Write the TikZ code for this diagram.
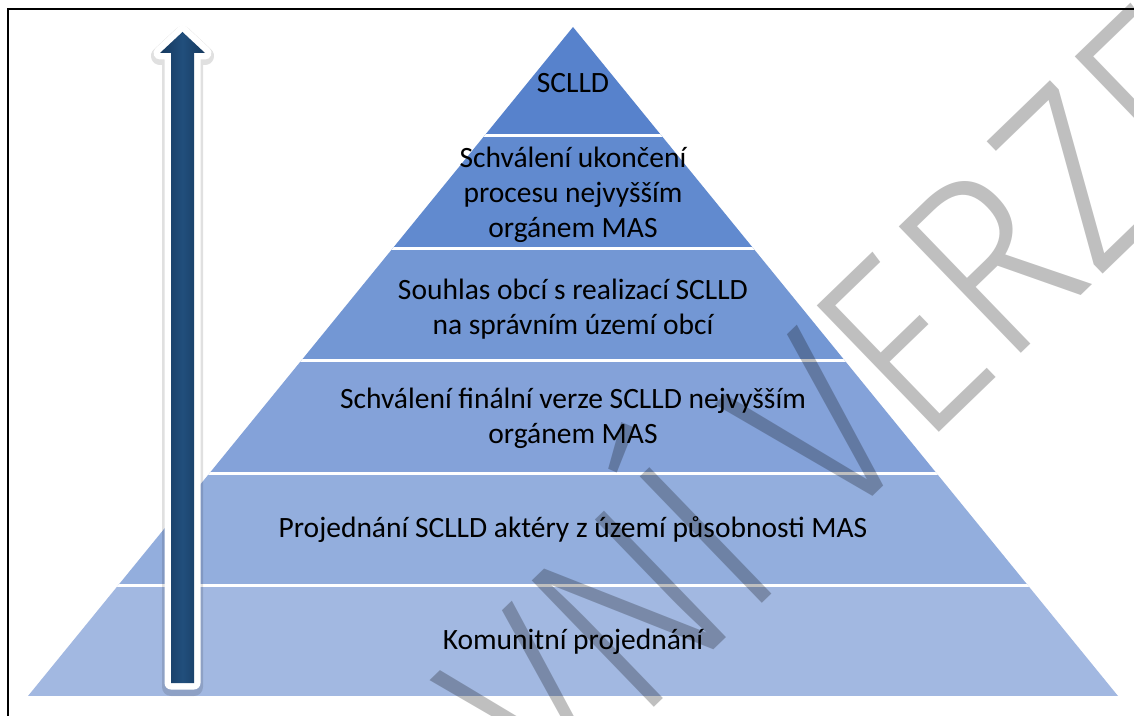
\documentclass[tikz,border=0pt]{standalone}
\usepackage{fontspec}
\setmainfont{Carlito}
\newfontfamily\wmfont{Fira Sans Light}
\usepackage{tikz}
\usetikzlibrary{positioning}
\definecolor{tierA}{RGB}{87,130,204}
\definecolor{tierB}{RGB}{97,138,207}
\definecolor{tierC}{RGB}{115,151,212}
\definecolor{tierD}{RGB}{132,162,217}
\definecolor{tierE}{RGB}{147,174,221}
\definecolor{tierF}{RGB}{162,184,225}
\definecolor{arrowblue}{RGB}{33,78,124}
\definecolor{arrowdark}{RGB}{22,57,94}

\begin{document}
\begin{tikzpicture}[
      x=0.5pt, y=-0.5pt,
      txt/.style={font=\fontsize{14.75}{17.5}\selectfont, align=center, inner sep=0pt},
      sep/.style={draw=white, line width=1.5pt},
      wmark/.style={font=\wmfont\fontsize{121}{121}\selectfont, text=black, opacity=.25, inner sep=0pt}
    ]
    \clip (0,0) rectangle (1134,716);
    \fill[white] (0,0) rectangle (1134,716);

    % the pyramid bands
    \begin{scope}
      \clip (573,27) -- (1118,696) -- (28,696) -- cycle;
      \fill[tierA] (0,20) rectangle (1134,136);
      \fill[tierB] (0,136) rectangle (1134,249);
      \fill[tierC] (0,249) rectangle (1134,361);
      \fill[tierD] (0,361) rectangle (1134,473);
      \fill[tierE] (0,473) rectangle (1134,585);
      \fill[tierF] (0,585) rectangle (1134,696);
      \draw[sep] (0,136) -- (1134,136);
      \draw[sep] (0,249) -- (1134,249);
      \draw[sep] (0,361) -- (1134,361);
      \draw[sep] (0,473) -- (1134,473);
      \draw[sep] (0,585) -- (1134,585);
    \end{scope}

    % the watermark
    \node[wmark, anchor=base west, rotate=44, xscale=.92, yscale=1.06] (vodoznak) at (834,534) {\llap{PRACOVNÍ }VERZE};

    % the texts
    \node[txt] (sclld) at (573,83) {SCLLD};
    \node[txt] (ukonceni) at (573,195) {Schválení ukončení\\procesu nejvyšším\\orgánem MAS};
    \node[txt] (souhlas) at (573,309) {Souhlas obcí s realizací SCLLD\\na správním území obcí};
    \node[txt] (finalni) at (573,418) {Schválení finální verze SCLLD nejvyšším\\orgánem MAS};
    \node[txt] (projednani) at (573,530) {Projednání SCLLD aktéry z území působnosti MAS};
    \node[txt] (komunitni) at (573,642) {Komunitní projednání};

    % the arrow
    \draw[black, opacity=.12, line width=9pt, line join=round] (182.5,35) -- (205,56) -- (194,56) -- (194,687) -- (171,687) -- (171,56) -- (160,56) -- cycle;
    \draw[white, line width=6.5pt, line join=round] (182.5,32) -- (205,53) -- (194,53) -- (194,683) -- (171,683) -- (171,53) -- (160,53) -- cycle;
    \shade[left color=arrowdark, right color=arrowdark, middle color=arrowblue] (182.5,32) -- (205,53) -- (194,53) -- (194,683) -- (171,683) -- (171,53) -- (160,53) -- cycle;

    % the frame
    \draw[line width=1pt] (7.5,9.5) rectangle (1160,740);
\end{tikzpicture}
\end{document}
